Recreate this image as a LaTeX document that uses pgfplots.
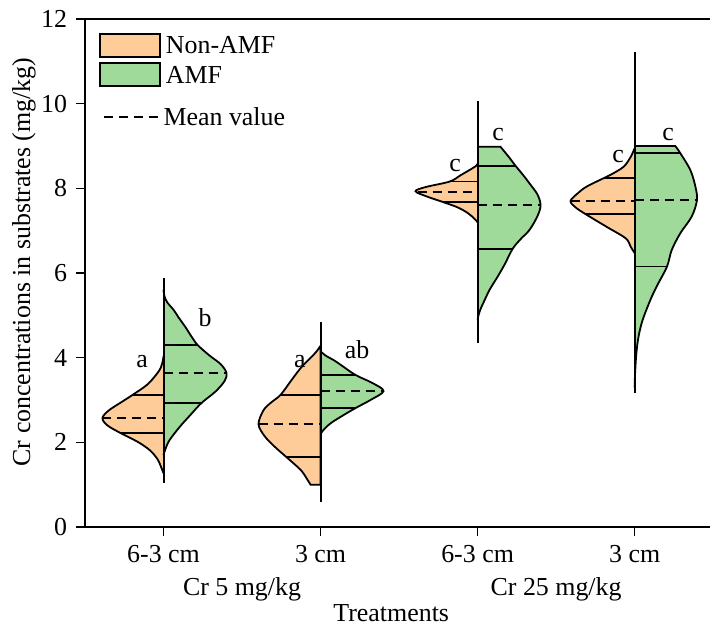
\documentclass[border=0pt]{standalone}
\usepackage{fontspec}
\setmainfont{Liberation Serif}
\usepackage{pgfplots}
\pgfplotsset{compat=1.18}
\definecolor{nonamf}{RGB}{253,204,153}
\definecolor{amf}{RGB}{160,218,155}
\pgfplotsset{
  halfo/.style={fill=nonamf, draw=black, line width=0.9bp, smooth, tension=0.55},
  halfg/.style={fill=amf, draw=black, line width=0.9bp, smooth, tension=0.55},
  qline/.style={black, line width=0.8bp},
  mline/.style={black, line width=0.9bp, dash pattern=on 4.5bp off 3bp},
  cline/.style={black, line width=1bp},
}
\begin{document}
\fontsize{13}{15}\selectfont
\begin{tikzpicture}
\begin{axis}[
  scale only axis, width=312.5bp, height=254bp,
  xmin=0.5, xmax=4.48, ymin=0, ymax=12,
  axis x line*=box, axis y line*=left,
  xtick={1,2,3,4}, xticklabels={6-3 cm,3 cm,6-3 cm,3 cm},
  ytick={0,2,4,6,8,10,12},
  xtick pos=bottom, ytick pos=left,
  tick align=outside, major tick length=4.5bp,
  tick style={black, line width=0.8bp},
  axis line style={black, line width=0.9bp},
  clip=false,
  /pgf/number format/assume math mode=true,
]
% ---- violin 1
\addplot[halfo] coordinates {(1,1.27)(0.981,1.45)(0.962,1.6)(0.917,1.8)(0.841,2.0)(0.726,2.22)(0.643,2.4)(0.611,2.57)(0.650,2.75)(0.732,2.95)(0.803,3.12)(0.892,3.35)(0.943,3.55)(0.981,3.75)(0.997,3.95)(1,4.05)};
\addplot[halfg] coordinates {(1,1.7)(1.013,1.85)(1.038,2.05)(1.102,2.36)(1.172,2.65)(1.242,2.93)(1.331,3.2)(1.389,3.45)(1.401,3.64)(1.363,3.85)(1.293,4.05)(1.217,4.3)(1.178,4.5)(1.140,4.72)(1.096,4.95)(1.064,5.13)(1.025,5.3)(1.006,5.45)(1,5.6)};
\addplot[qline] coordinates {(0.726,2.22)(1,2.22)};
\addplot[qline] coordinates {(0.803,3.12)(1,3.12)};
\addplot[mline] coordinates {(0.611,2.57)(1,2.57)};
\addplot[qline] coordinates {(1,2.93)(1.242,2.93)};
\addplot[qline] coordinates {(1,4.30)(1.217,4.30)};
\addplot[mline] coordinates {(1,3.64)(1.401,3.64)};
\addplot[cline] coordinates {(1,1.04)(1,5.88)};
% ---- violin 2
\addplot[halfo] coordinates {(1.936,1.0)(1.911,1.15)(1.873,1.35)(1.783,1.65)(1.707,1.9)(1.643,2.15)(1.605,2.43)(1.637,2.76)(1.688,2.95)(1.745,3.12)(1.815,3.47)(1.879,3.78)(1.943,4.02)(1.975,4.15)(2,4.28)} -- (axis cs:2,1.0) -- cycle;
\addplot[halfg] coordinates {(2,2.2)(2.025,2.32)(2.064,2.45)(2.127,2.6)(2.223,2.81)(2.318,3.0)(2.401,3.21)(2.331,3.4)(2.223,3.59)(2.140,3.8)(2.089,3.93)(2.032,4.05)(2,4.15)};
\addplot[qline] coordinates {(1.783,1.65)(2,1.65)};
\addplot[qline] coordinates {(1.745,3.12)(2,3.12)};
\addplot[mline] coordinates {(1.605,2.43)(2,2.43)};
\addplot[qline] coordinates {(2,2.81)(2.223,2.81)};
\addplot[qline] coordinates {(2,3.59)(2.223,3.59)};
\addplot[mline] coordinates {(2,3.21)(2.401,3.21)};
\addplot[cline] coordinates {(2,0.59)(2,4.84)};
% ---- violin 3
\addplot[halfo] coordinates {(3,7.2)(2.975,7.3)(2.936,7.42)(2.873,7.55)(2.777,7.68)(2.682,7.8)(2.605,7.93)(2.669,8.03)(2.822,8.16)(2.892,8.31)(2.943,8.42)(2.987,8.52)(3,8.58)};
\addplot[halfg] coordinates {(3,4.9)(3.006,5.0)(3.019,5.15)(3.045,5.36)(3.076,5.6)(3.127,5.91)(3.172,6.2)(3.223,6.57)(3.274,6.8)(3.331,7.02)(3.382,7.35)(3.401,7.6)(3.382,7.85)(3.338,8.08)(3.293,8.3)(3.242,8.53)(3.197,8.75)(3.146,8.98)} -- (axis cs:3,8.98);
\addplot[qline] coordinates {(2.777,7.68)(3,7.68)};
\addplot[qline] coordinates {(2.822,8.16)(3,8.16)};
\addplot[mline] coordinates {(2.618,7.91)(3,7.91)};
\addplot[qline] coordinates {(3,6.57)(3.223,6.57)};
\addplot[qline] coordinates {(3,8.53)(3.242,8.53)};
\addplot[mline] coordinates {(3,7.6)(3.401,7.6)};
\addplot[cline] coordinates {(3,4.35)(3,10.06)};
% ---- violin 4
\addplot[halfo] coordinates {(4,6.47)(3.975,6.62)(3.943,6.82)(3.822,7.09)(3.688,7.39)(3.624,7.55)(3.592,7.70)(3.637,7.88)(3.694,8.04)(3.803,8.24)(3.847,8.32)(3.930,8.51)(3.976,8.75)(4,8.95)};
\addplot[halfg] coordinates {(4,3.3)(4.003,3.63)(4.011,4.10)(4.025,4.50)(4.051,4.89)(4.100,5.36)(4.140,5.68)(4.206,6.15)(4.236,6.54)(4.291,6.94)(4.363,7.33)(4.397,7.72)(4.387,8.04)(4.355,8.43)(4.291,8.83)(4.259,9.0)} -- (axis cs:4,9.0);
\addplot[qline] coordinates {(3.688,7.39)(4,7.39)};
\addplot[qline] coordinates {(3.803,8.24)(4,8.24)};
\addplot[mline] coordinates {(3.592,7.7)(4,7.7)};
\addplot[qline] coordinates {(4,6.15)(4.206,6.15)};
\addplot[qline] coordinates {(4,8.83)(4.291,8.83)};
\addplot[mline] coordinates {(4,7.72)(4.397,7.72)};
\addplot[cline] coordinates {(4,3.16)(4,11.22)};
% ---- letters
\node at (axis cs:0.863,3.9) {a};
\node at (axis cs:1.264,4.94) {b};
\node at (axis cs:1.869,3.9) {a};
\node at (axis cs:2.232,4.18) {ab};
\node at (axis cs:2.857,8.55) {c};
\node at (axis cs:3.131,9.28) {c};
\node at (axis cs:3.895,8.75) {c};
\node at (axis cs:4.213,9.26) {c};
% ---- legend
\draw[fill=nonamf, line width=0.8bp] (axis cs:0.596,11.10) rectangle (axis cs:0.978,11.65);
\draw[fill=amf, line width=0.8bp] (axis cs:0.596,10.42) rectangle (axis cs:0.978,10.96);
\draw[black, line width=0.9bp, dash pattern=on 4.5bp off 3bp] (axis cs:0.621,9.69) -- (axis cs:0.978,9.69);
\node[anchor=west, inner sep=1pt] at (axis cs:1.0,11.38) {Non-AMF};
\node[anchor=west, inner sep=1pt] at (axis cs:1.0,10.68) {AMF};
\node[anchor=west, inner sep=1pt] at (axis cs:0.985,9.69) {Mean value};
% ---- group labels
\node at (axis cs:1.5,-1.47) {Cr 5 mg/kg};
\node at (axis cs:3.5,-1.47) {Cr 25 mg/kg};
\node at (axis cs:2.45,-2.04) {Treatments};
\end{axis}
\node[rotate=90] at ([xshift=-30.5bp, yshift=5.5bp]current axis.west) {Cr concentrations in substrates (mg/kg)};
\pgfresetboundingbox
\path[use as bounding box] ([xshift=-42.5bp, yshift=-49bp]current axis.south west) rectangle ([yshift=9.5bp]current axis.north east);
\end{tikzpicture}
\end{document}
